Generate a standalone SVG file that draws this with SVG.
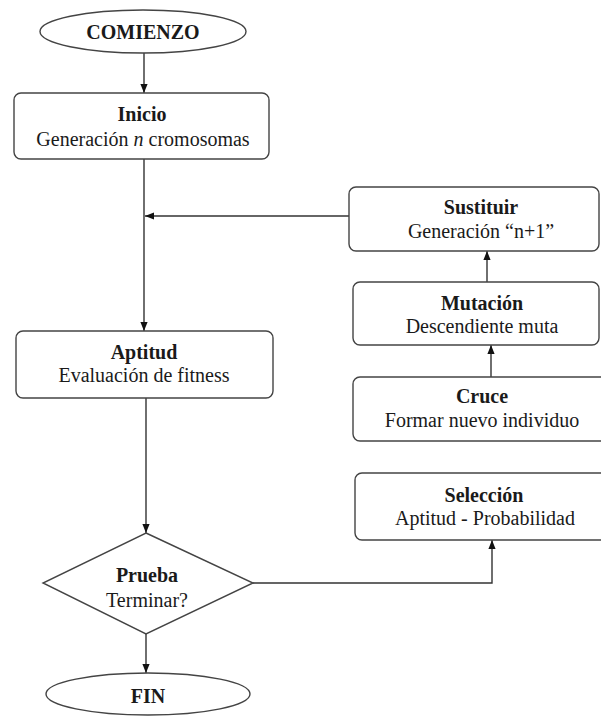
<svg xmlns="http://www.w3.org/2000/svg" width="601" height="716" viewBox="0 0 601 716">
<style>
.shape{fill:#fff;stroke:#444;stroke-width:1.4}
.conn{fill:none;stroke:#333;stroke-width:1.4}
text{font-family:"Liberation Serif","Times New Roman",serif;font-size:20px;fill:#1a1a1a;text-anchor:middle}
.b{font-weight:bold}
</style>
<defs>
<marker id="ah" viewBox="0 0 10 10" refX="10" refY="5" markerWidth="9" markerHeight="9" markerUnits="userSpaceOnUse" orient="auto">
<path d="M0,1 L10,5 L0,9 z" fill="#111"/>
</marker>
</defs>
<rect width="601" height="716" fill="#fff"/>
<g id="connectors">
<line class="conn" x1="144" y1="53" x2="144" y2="93" marker-end="url(#ah)"/>
<line class="conn" x1="144" y1="159" x2="144" y2="331" marker-end="url(#ah)"/>
<line class="conn" x1="349" y1="216" x2="145" y2="216" marker-end="url(#ah)"/>
<line class="conn" x1="146" y1="398" x2="146" y2="533" marker-end="url(#ah)"/>
<line class="conn" x1="146" y1="634" x2="146" y2="673" marker-end="url(#ah)"/>
<polyline class="conn" points="253,583 492,583 492,540" marker-end="url(#ah)"/>
<line class="conn" x1="491" y1="377" x2="491" y2="345" marker-end="url(#ah)"/>
<line class="conn" x1="487" y1="282" x2="487" y2="251" marker-end="url(#ah)"/>
</g>
<g id="comienzo">
<ellipse class="shape" cx="143" cy="31.5" rx="103" ry="21.5"/>
<text class="b" x="143" y="39">COMIENZO</text>
</g>
<g id="inicio">
<rect class="shape" x="14" y="93" width="255" height="66" rx="7"/>
<text class="b" x="142" y="121">Inicio</text>
<text x="143" y="146">Generación <tspan font-style="italic">n</tspan> cromosomas</text>
</g>
<g id="sustituir">
<rect class="shape" x="349" y="187" width="250" height="64" rx="7"/>
<text class="b" x="481" y="214">Sustituir</text>
<text x="481" y="238">Generación “n+1”</text>
</g>
<g id="mutacion">
<rect class="shape" x="353" y="282" width="246" height="63" rx="7"/>
<text class="b" x="482" y="310">Mutación</text>
<text x="482" y="333">Descendiente muta</text>
</g>
<g id="cruce">
<rect class="shape" x="353" y="377" width="256" height="64" rx="7"/>
<text class="b" x="482" y="403">Cruce</text>
<text x="482" y="427">Formar nuevo individuo</text>
</g>
<g id="aptitud">
<rect class="shape" x="16" y="331" width="257" height="67" rx="7"/>
<text class="b" x="144" y="359">Aptitud</text>
<text x="144" y="382">Evaluación de fitness</text>
</g>
<g id="seleccion">
<rect class="shape" x="355" y="473" width="256" height="67" rx="7"/>
<text class="b" x="484" y="502">Selección</text>
<text x="485" y="525">Aptitud - Probabilidad</text>
</g>
<g id="prueba">
<polygon class="shape" points="146,533 253,583 146,634 43,583"/>
<text class="b" x="147" y="582">Prueba</text>
<text x="147" y="607">Terminar?</text>
</g>
<g id="fin">
<ellipse class="shape" cx="148" cy="694" rx="102" ry="21"/>
<text class="b" x="148" y="703">FIN</text>
</g>
</svg>
